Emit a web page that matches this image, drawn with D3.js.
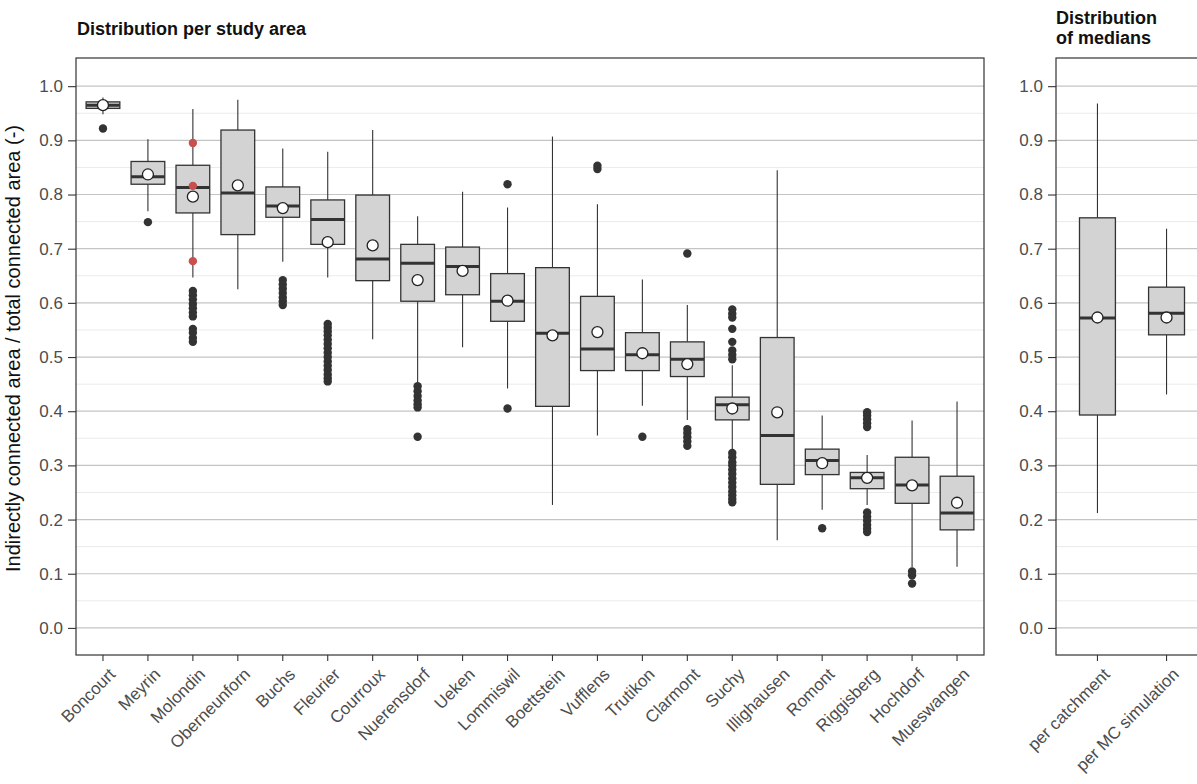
<!DOCTYPE html>
<html>
<head>
<meta charset="utf-8">
<title>connected area boxplots</title>
<style>
  body { margin: 0; background: #fff; }
  text { font-family: "Liberation Sans", Arial, sans-serif; }
</style>
</head>
<body>
<script src="https://d3js.org/d3.v7.min.js"></script>
<svg width="1197" height="784" id="mainsvg"></svg>
<script>
// study areas, ordered as in the figure
const sites = ["Boncourt", "Meyrin", "Molondin", "Oberneunforn", "Buchs", "Fleurier", "Courroux",
  "Nuerensdorf", "Ueken", "Lommiswil", "Boettstein", "Vufflens", "Trutikon", "Clarmont",
  "Suchy", "Illighausen", "Romont", "Riggisberg", "Hochdorf", "Mueswangen"];

// box statistics per site
const whiskerLow  = [0.948, 0.769, 0.647, 0.625, 0.676, 0.647, 0.533, 0.454, 0.518, 0.442, 0.227, 0.355, 0.410, 0.384, 0.327, 0.162, 0.218, 0.227, 0.112, 0.113];
const q1          = [0.959, 0.819, 0.766, 0.726, 0.758, 0.708, 0.641, 0.603, 0.615, 0.566, 0.409, 0.475, 0.475, 0.464, 0.384, 0.265, 0.283, 0.257, 0.230, 0.181];
const median      = [0.965, 0.833, 0.813, 0.803, 0.779, 0.754, 0.681, 0.673, 0.667, 0.603, 0.544, 0.515, 0.504, 0.496, 0.412, 0.355, 0.309, 0.277, 0.264, 0.212];
const q3          = [0.971, 0.861, 0.854, 0.919, 0.814, 0.790, 0.799, 0.708, 0.703, 0.654, 0.665, 0.612, 0.545, 0.528, 0.426, 0.536, 0.330, 0.287, 0.315, 0.280];
const whiskerHigh = [0.979, 0.902, 0.958, 0.975, 0.885, 0.879, 0.919, 0.760, 0.805, 0.776, 0.907, 0.782, 0.643, 0.596, 0.485, 0.845, 0.392, 0.319, 0.383, 0.418];
const means       = [0.965, 0.837, 0.796, 0.817, 0.775, 0.712, 0.706, 0.642, 0.659, 0.604, 0.540, 0.546, 0.507, 0.487, 0.405, 0.398, 0.304, 0.277, 0.263, 0.231];
const outliers = [
  [0.922],
  [0.749],
  [0.622, 0.614, 0.606, 0.598, 0.590, 0.582, 0.575, 0.552, 0.545, 0.535, 0.528],
  [],
  [0.642, 0.634, 0.626, 0.618, 0.610, 0.603, 0.596],
  [0.561, 0.554, 0.547, 0.540, 0.532, 0.524, 0.516, 0.508, 0.500, 0.492, 0.484, 0.476, 0.468, 0.461, 0.455],
  [],
  [0.446, 0.437, 0.428, 0.420, 0.413, 0.407, 0.353],
  [],
  [0.819, 0.405],
  [],
  [0.853, 0.847],
  [0.353],
  [0.691, 0.367, 0.360, 0.352, 0.344, 0.336],
  [0.588, 0.580, 0.573, 0.552, 0.528, 0.512, 0.504, 0.496, 0.323, 0.315, 0.306, 0.300, 0.292, 0.284, 0.276, 0.268, 0.260, 0.252, 0.245, 0.238, 0.232],
  [],
  [0.184],
  [0.398, 0.392, 0.385, 0.378, 0.371, 0.213, 0.205, 0.198, 0.190, 0.183, 0.177],
  [0.104, 0.097, 0.082],
  []
];
// highlighted (red) values at Molondin
const redSite = "Molondin";
const redValues = [0.895, 0.816, 0.677];

// distribution of medians panel
const medGroups = ["per catchment", "per MC simulation"];
const medWhiskerLow  = [0.212, 0.431];
const medQ1          = [0.393, 0.541];
const medMedian      = [0.572, 0.581];
const medQ3          = [0.757, 0.629];
const medWhiskerHigh = [0.968, 0.737];
const medMeans       = [0.573, 0.573];

const yTicks = [0, 0.1, 0.2, 0.3, 0.4, 0.5, 0.6, 0.7, 0.8, 0.9, 1.0];
const yMinor = [0.05, 0.15, 0.25, 0.35, 0.45, 0.55, 0.65, 0.75, 0.85, 0.95];

const svg = d3.select('#mainsvg');
const plotTop = 58, plotBottom = 655;
const y = d3.scaleLinear().domain([-0.05, 1.052]).range([plotBottom, plotTop]);

function panel(opts) {
  const g = svg.append("g");
  // ggplot discrete expansion: 0.6 of a step each side
  const x = d3.scalePoint().domain(opts.cats)
    .range([opts.left, opts.right]).padding(0.6);
  const step = x.step();
  const bw = step * opts.boxFrac;
  const cx = d => x(d);

  // grid
  g.append("g").selectAll("line").data(yMinor).join("line")
    .attr("x1", opts.left).attr("x2", opts.right)
    .attr("y1", d => y(d)).attr("y2", d => y(d))
    .attr("stroke", "#ebebeb").attr("stroke-width", 1);
  g.append("g").selectAll("line").data(yTicks).join("line")
    .attr("x1", opts.left).attr("x2", opts.right)
    .attr("y1", d => y(d)).attr("y2", d => y(d))
    .attr("stroke", "#c4c4c4").attr("stroke-width", 1.2);

  // y axis
  const ya = g.append("g").attr("transform", `translate(${opts.left},0)`)
    .call(d3.axisLeft(y).tickValues(yTicks).tickFormat(d3.format(".1f")).tickSize(8).tickPadding(5));
  ya.select(".domain").remove();
  ya.selectAll(".tick line").attr("stroke", "#333").attr("stroke-width", 1.1);
  ya.selectAll(".tick text").attr("fill", "#4d4d4d").style("font-size", "17px")
    .style("font-family", '"Liberation Sans", Arial, sans-serif');

  // x axis
  const xa = g.append("g").attr("transform", `translate(0,${plotBottom})`);
  const xt = xa.selectAll("g").data(opts.cats).join("g")
    .attr("transform", d => `translate(${cx(d)},0)`);
  xt.append("line").attr("y2", 6).attr("stroke", "#333").attr("stroke-width", 1.1);
  xt.append("text")
    .attr("transform", "translate(5,12) rotate(-45)")
    .attr("text-anchor", "end").attr("dy", "0.7em")
    .attr("fill", "#4d4d4d").style("font-size", "17px")
    .text(d => d);

  // boxes
  const boxes = g.append("g").selectAll("g").data(opts.rows).join("g");
  boxes.append("line")
    .attr("x1", d => cx(d.cat)).attr("x2", d => cx(d.cat))
    .attr("y1", d => y(d.hi)).attr("y2", d => y(d.q3))
    .attr("stroke", "#333").attr("stroke-width", 1.1);
  boxes.append("line")
    .attr("x1", d => cx(d.cat)).attr("x2", d => cx(d.cat))
    .attr("y1", d => y(d.q1)).attr("y2", d => y(d.lo))
    .attr("stroke", "#333").attr("stroke-width", 1.1);
  boxes.append("rect")
    .attr("x", d => cx(d.cat) - bw / 2).attr("width", bw)
    .attr("y", d => y(d.q3)).attr("height", d => y(d.q1) - y(d.q3))
    .attr("fill", "#d3d3d3").attr("stroke", "#333").attr("stroke-width", 1.3);
  boxes.append("line")
    .attr("x1", d => cx(d.cat) - bw / 2).attr("x2", d => cx(d.cat) + bw / 2)
    .attr("y1", d => y(d.med)).attr("y2", d => y(d.med))
    .attr("stroke", "#333").attr("stroke-width", 3);

  // outliers
  const pts = [];
  opts.rows.forEach(d => (d.out || []).forEach(v => pts.push({ cat: d.cat, v: v, red: false })));
  (opts.red || []).forEach(v => pts.push({ cat: opts.redCat, v: v, red: true }));
  g.append("g").selectAll("circle").data(pts).join("circle")
    .attr("cx", d => cx(d.cat)).attr("cy", d => y(d.v)).attr("r", 4.2)
    .attr("fill", d => d.red ? "#c8504f" : "#333");

  // means
  g.append("g").selectAll("circle").data(opts.rows).join("circle")
    .attr("cx", d => cx(d.cat)).attr("cy", d => y(d.mean)).attr("r", 5.5)
    .attr("fill", "#fff").attr("stroke", "#222").attr("stroke-width", 1.3);

  // panel border
  g.append("rect").attr("x", opts.left).attr("y", plotTop)
    .attr("width", opts.right - opts.left).attr("height", plotBottom - plotTop)
    .attr("fill", "none").attr("stroke", "#333").attr("stroke-width", 1.2);

  return g;
}

const siteRows = sites.map((s, i) => ({
  cat: s, lo: whiskerLow[i], q1: q1[i], med: median[i], q3: q3[i], hi: whiskerHigh[i],
  mean: means[i], out: outliers[i]
}));
panel({ cats: sites, rows: siteRows, left: 76, right: 984, boxFrac: 0.75, red: redValues, redCat: redSite });

const medRows = medGroups.map((s, i) => ({
  cat: s, lo: medWhiskerLow[i], q1: medQ1[i], med: medMedian[i], q3: medQ3[i], hi: medWhiskerHigh[i],
  mean: medMeans[i], out: []
}));
panel({ cats: medGroups, rows: medRows, left: 1056, right: 1208, boxFrac: 0.52 });

// titles
const titleStyle = t => t.style("font-size", "18px").style("font-weight", "bold").attr("fill", "#111");
svg.append("text").attr("x", 77).attr("y", 35).call(titleStyle)
  .text("Distribution per study area");
svg.append("text").attr("x", 1056).attr("y", 24).call(titleStyle)
  .text("Distribution");
svg.append("text").attr("x", 1056).attr("y", 44).call(titleStyle)
  .text("of medians");

// y title
svg.append("text")
  .attr("transform", `translate(20,${(plotTop + plotBottom) / 2 - 8}) rotate(-90)`)
  .attr("text-anchor", "middle")
  .style("font-size", "20px").attr("fill", "#111")
  .text("Indirectly connected area / total connected area (-)");
</script>
</body>
</html>
